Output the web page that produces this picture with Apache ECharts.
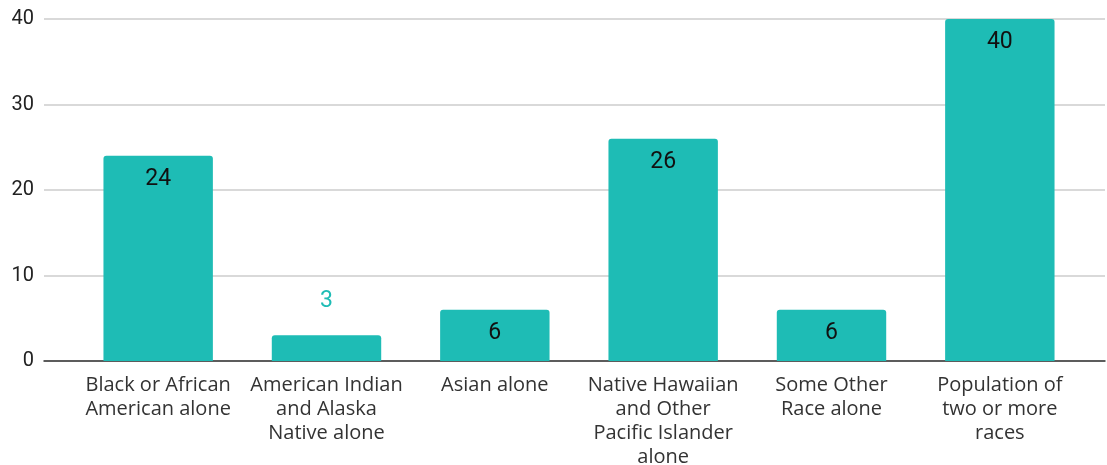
<!DOCTYPE html>
<html>
<head>
<meta charset="utf-8">
<script src="https://cdn.jsdelivr.net/npm/echarts@6/dist/echarts.min.js"></script>
<style>
  html, body { margin: 0; padding: 0; background: #fff; }
  #chart { width: 1107px; height: 465px; }
</style>
</head>
<body>
<div id="chart"></div>
<script>
const categories = [
  'Black or African\nAmerican alone',
  'American Indian\nand Alaska\nNative alone',
  'Asian alone',
  'Native Hawaiian\nand Other\nPacific Islander\nalone',
  'Some Other\nRace alone',
  'Population of\ntwo or more\nraces',
];
const values = [24, 3, 6, 26, 6, 40];
const yTicks = [0, 10, 20, 30, 40];

const barColor = '#1ebcb5';

const seriesData = values.map((v) => {
  const item = { value: v };
  // small bar: label sits above in bar colour
  if (v < 5) {
    item.label = { position: 'top', distance: 23, color: barColor };
  }
  return item;
});

const myChart = echarts.init(document.getElementById('chart'));
myChart.setOption({
  animation: false,
  grid: [
    { left: 44, right: 2, top: 19, bottom: 104, outerBoundsMode: 'none' },
    { left: 74, right: 23, top: 19, bottom: 104, outerBoundsMode: 'none' },
  ],
  xAxis: [
    {
      gridIndex: 0,
      type: 'category',
      data: [''],
      axisLine: { lineStyle: { color: '#333', width: 1.5 } },
      axisTick: { show: false },
      axisLabel: { show: false },
    },
    {
      gridIndex: 1,
      type: 'category',
      data: categories,
      axisLine: { show: false },
      axisTick: { show: false },
      axisLabel: {
        interval: 0,
        margin: 12,
        fontFamily: 'Open Sans',
        fontSize: 20,
        lineHeight: 24,
        color: '#333',
      },
    },
  ],
  yAxis: [
    {
      gridIndex: 0,
      type: 'value',
      min: yTicks[0],
      max: yTicks[yTicks.length - 1],
      interval: 10,
      axisLine: { show: false },
      axisTick: { show: false },
      axisLabel: { margin: 10, fontFamily: 'Roboto', fontSize: 20, color: '#222' },
      splitLine: { lineStyle: { color: '#cccccc', width: 1.5 } },
    },
    {
      gridIndex: 1,
      type: 'value',
      min: yTicks[0],
      max: yTicks[yTicks.length - 1],
      show: false,
    },
  ],
  series: [
    {
      type: 'bar',
      xAxisIndex: 1,
      yAxisIndex: 1,
      data: seriesData,
      barWidth: '65%',
      itemStyle: { color: barColor, borderRadius: [3, 3, 0, 0] },
      label: {
        show: true,
        position: 'insideTop',
        distance: 12,
        fontFamily: 'Roboto',
        fontSize: 23,
        color: '#111',
      },
      z: 3,
    },
  ],
});
</script>
</body>
</html>
